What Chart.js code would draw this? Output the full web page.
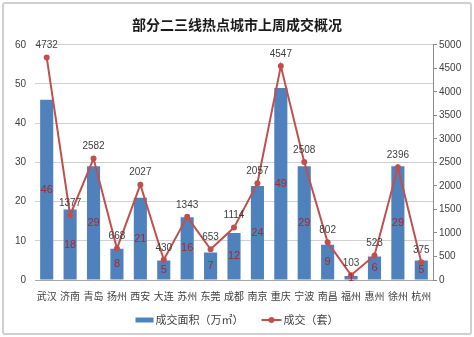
<!DOCTYPE html>
<html>
<head>
<meta charset="utf-8">
<script src="https://cdn.jsdelivr.net/npm/chart.js@4.4.1/dist/chart.umd.min.js"></script>
<style>
body { margin: 0; background: #fff; }
#wrap { position: relative; width: 474px; height: 337px; }
#frame { position: absolute; left: 2px; top: 2px; width: 466px; height: 329px; border: 2px solid #cfcfcf; border-radius: 3px; pointer-events: none; }
</style>
</head>
<body>
<div id="wrap">
  <canvas id="myChart" width="474" height="337"></canvas>
  <div id="frame"></div>
</div>
<script>
// weekly sales in selected second/third tier cities
const cities = ["武汉", "济南", "青岛", "扬州", "西安", "大连", "苏州", "东莞", "成都", "南京", "重庆", "宁波", "南昌", "福州", "惠州", "徐州", "杭州"];
const areaSold = [46, 18, 29, 8, 21, 5, 16, 7, 12, 24, 49, 29, 9, 1, 6, 29, 5];
const unitsSold = [4732, 1377, 2582, 668, 2027, 430, 1343, 653, 1114, 2057, 4547, 2508, 802, 103, 523, 2396, 375];
const areaTicks = [0, 10, 20, 30, 40, 50, 60];
const unitTicks = [0, 500, 1000, 1500, 2000, 2500, 3000, 3500, 4000, 4500, 5000];

const numFont = "'Liberation Sans', Arial, sans-serif";
const cjkFont = "'Noto Sans CJK SC', sans-serif";

// value labels: centered inside bars, above line points
const valueLabels = {
    id: 'valueLabels',
    afterDatasetsDraw(chart) {
        const ctx = chart.ctx;
        ctx.save();
        ctx.textAlign = 'center';
        ctx.textBaseline = 'middle';
        chart.getDatasetMeta(0).data.forEach((bar, i) => {
            ctx.fillStyle = '#a8282c';
            ctx.font = '11px ' + numFont;
            ctx.fillText(areaSold[i], bar.x, (bar.y + bar.base) / 2);
        });
        chart.getDatasetMeta(1).data.forEach((pt, i) => {
            ctx.fillStyle = '#404040';
            ctx.font = '10px ' + numFont;
            ctx.fillText(unitsSold[i], pt.x, pt.y - 12);
        });
        ctx.restore();
    }
};

// legend at the bottom: flat bar swatch and line-with-dot swatch
const bottomLegend = {
    id: 'bottomLegend',
    afterDraw(chart) {
        const ctx = chart.ctx;
        const ds = chart.data.datasets;
        const y = 320;
        ctx.save();
        ctx.font = '11px ' + cjkFont;
        ctx.textBaseline = 'middle';
        const w1 = ctx.measureText(ds[0].label).width;
        const w2 = ctx.measureText(ds[1].label).width;
        const total = 18 + 2 + w1 + 18 + 20 + 2 + w2;
        let x = 237 - total / 2;
        ctx.fillStyle = ds[0].backgroundColor;
        ctx.fillRect(x, y - 2.5, 18, 5);
        x += 20;
        ctx.fillStyle = '#404040';
        ctx.fillText(ds[0].label, x, y);
        x += w1 + 18;
        ctx.strokeStyle = ds[1].borderColor;
        ctx.lineWidth = 2;
        ctx.beginPath();
        ctx.moveTo(x, y);
        ctx.lineTo(x + 20, y);
        ctx.stroke();
        ctx.fillStyle = ds[1].borderColor;
        ctx.beginPath();
        ctx.arc(x + 10, y, 3, 0, Math.PI * 2);
        ctx.fill();
        x += 22;
        ctx.fillStyle = '#404040';
        ctx.fillText(ds[1].label, x, y);
        ctx.restore();
    }
};

const ctx = document.getElementById('myChart').getContext('2d');
const myChart = new Chart(ctx, {
    type: 'bar',
    data: {
        labels: cities,
        datasets: [{
            type: 'bar',
            label: '成交面积（万㎡）',
            data: areaSold,
            yAxisID: 'y',
            backgroundColor: '#4f81bd',
            barPercentage: 0.56,
            categoryPercentage: 1,
            order: 2
        }, {
            type: 'line',
            label: '成交（套）',
            data: unitsSold,
            yAxisID: 'y1',
            borderColor: '#c0504d',
            backgroundColor: '#c0504d',
            borderWidth: 2,
            pointRadius: 3,
            pointBackgroundColor: '#c0504d',
            pointBorderWidth: 0,
            tension: 0,
            order: 1
        }]
    },
    options: {
        responsive: false,
        animation: false,
        layout: { padding: { left: 0, right: 0, top: 0, bottom: 25 } },
        plugins: {
            legend: { display: false },
            tooltip: { enabled: false },
            title: {
                display: true,
                text: '部分二三线热点城市上周成交概况',
                color: '#1a1a1a',
                font: { family: cjkFont, size: 14, weight: 'bold' },
                padding: { top: 16, bottom: 12 }
            }
        },
        scales: {
            x: {
                grid: { display: false, drawTicks: false },
                border: { display: true, color: '#a6a6a6' },
                ticks: { color: '#404040', padding: 10, font: { family: cjkFont, size: 10 }, maxRotation: 0, autoSkip: false }
            },
            y: {
                position: 'left',
                min: 0, max: 60,
                afterBuildTicks(scale) { scale.ticks = areaTicks.map(v => ({ value: v })); },
                afterFit(scale) { scale.width = 35; },
                grid: { color: '#d0d0d0', drawTicks: false },
                border: { display: false },
                ticks: { color: '#404040', padding: 9, font: { family: numFont, size: 10 } }
            },
            y1: {
                position: 'right',
                min: 0, max: 5000,
                afterBuildTicks(scale) { scale.ticks = unitTicks.map(v => ({ value: v })); },
                afterFit(scale) { scale.width = 41; },
                grid: { drawOnChartArea: false, drawTicks: true, tickLength: 4, color: '#8c8c8c' },
                border: { display: true, color: '#8c8c8c' },
                ticks: { color: '#404040', padding: 2, font: { family: numFont, size: 10 }, callback: v => String(v) }
            }
        }
    },
    plugins: [valueLabels, bottomLegend]
});
</script>
</body>
</html>
